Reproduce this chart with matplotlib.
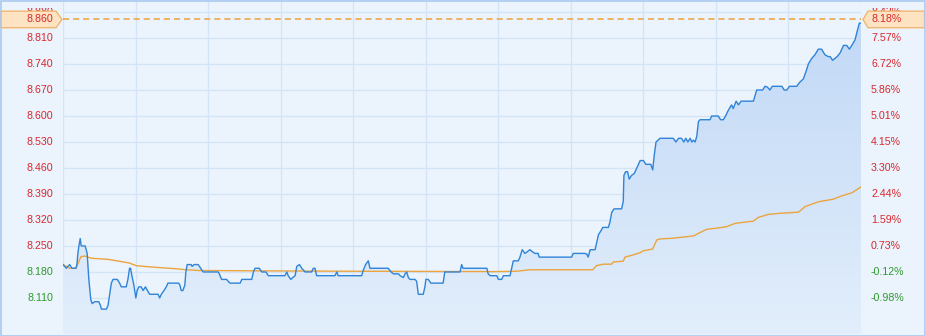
import numpy as np
import matplotlib
matplotlib.use("Agg")
import matplotlib.pyplot as plt
from matplotlib.patches import Polygon, Rectangle
from matplotlib.colors import LinearSegmentedColormap
from matplotlib.transforms import blended_transform_factory, Bbox, TransformedBbox, IdentityTransform

plt.rcParams['font.family'] = ['Liberation Sans', 'DejaVu Sans']

# ---------------- data ----------------
prev_close = 8.19
max_price = 8.860
total_minutes = 241

price_minute = [
    0, 1, 2, 2.7, 3.9, 4.2, 4.5, 4.8, 5.2, 5.5,
    6.7, 7.3, 7.8, 8.4, 8.8, 9.6, 10.8, 11.3, 11.6, 13.1,
    13.6, 14.1, 14.6, 15.1, 16.4, 17.1, 17.6, 19.1, 19.6, 20.1,
    20.4, 20.8, 21.4, 22.0, 22.4, 22.9, 23.6, 24.2, 24.9, 25.5,
    26.2, 28.2, 28.7, 29.2, 29.7, 30.5, 31.2, 31.7, 34.9, 35.3,
    35.7, 36.2, 36.8, 37.1, 37.5, 38.7, 39.0, 39.6, 40.8, 41.6,
    42.3, 46.9, 47.2, 47.9, 49.4, 50.4, 53.5, 54.0, 57.0, 57.5,
    58.0, 59.3, 60.0, 61.3, 62.0, 67.0, 67.6, 68.0, 68.8, 69.4,
    70.1, 70.6, 71.4, 72.1, 73.1, 75.1, 75.6, 76.1, 76.6, 82.1,
    82.7, 83.1, 90.2, 90.7, 91.4, 92.2, 92.7, 98.2, 99.1, 99.8,
    101.3, 101.8, 102.8, 103.3, 103.8, 104.3, 104.8, 106.3, 106.8, 107.3,
    108.8, 109.3, 109.6, 110.3, 111.1, 114.8, 115.3, 119.9, 120.4, 120.8,
    128.0, 128.4, 129.0, 131.0, 131.5, 132.5, 133.0, 135.0, 135.5, 136.0,
    137.5, 138.0, 138.7, 139.5, 140.3, 141.0, 141.7, 142.5, 143.5, 143.8,
    153.6, 154.1, 157.6, 158.2, 158.6, 159.2, 160.7, 161.2, 161.7, 162.4,
    163.0, 164.7, 165.2, 165.7, 166.4, 167.2, 168.7, 169.2, 169.4, 169.9,
    170.5, 171.0, 171.7, 172.5, 173.3, 174.3, 175.3, 176.0, 177.5, 178.1,
    178.5, 179.1, 180.3, 184.3, 185.1, 185.9, 186.8, 187.5, 188.1, 188.7,
    189.4, 189.9, 190.4, 190.9, 191.4, 191.9, 192.4, 195.4, 195.9, 197.9,
    198.6, 199.4, 200.1, 200.9, 201.9, 202.4, 203.3, 204.0, 204.8, 208.5,
    209.5, 211.3, 212.0, 212.7, 213.5, 214.2, 217.1, 217.8, 218.6, 219.4,
    221.6, 222.4, 223.6, 224.4, 225.1, 226.1, 227.1, 228.1, 229.1, 230.1,
    231.1, 231.7, 232.4, 233.1, 233.8, 234.7, 235.7, 236.7, 237.5, 238.2,
    239.2, 239.9, 240.5, 241,
]
price = [
    8.20, 8.19, 8.20, 8.19, 8.19, 8.20, 8.23, 8.25, 8.27, 8.25,
    8.25, 8.23, 8.16, 8.105, 8.095, 8.10, 8.10, 8.09, 8.08, 8.08,
    8.09, 8.12, 8.15, 8.16, 8.16, 8.15, 8.14, 8.14, 8.16, 8.19,
    8.19, 8.17, 8.145, 8.11, 8.13, 8.14, 8.14, 8.13, 8.14, 8.13,
    8.12, 8.12, 8.12, 8.11, 8.12, 8.13, 8.14, 8.15, 8.15, 8.145,
    8.13, 8.13, 8.145, 8.18, 8.20, 8.20, 8.195, 8.20, 8.20, 8.19,
    8.18, 8.18, 8.175, 8.16, 8.16, 8.15, 8.15, 8.16, 8.16, 8.18,
    8.19, 8.19, 8.18, 8.18, 8.17, 8.17, 8.18, 8.17, 8.16, 8.165,
    8.17, 8.195, 8.20, 8.19, 8.18, 8.18, 8.19, 8.19, 8.17, 8.17,
    8.18, 8.17, 8.17, 8.185, 8.20, 8.21, 8.19, 8.19, 8.18, 8.175,
    8.175, 8.17, 8.165, 8.175, 8.18, 8.165, 8.16, 8.16, 8.155, 8.12,
    8.12, 8.14, 8.16, 8.16, 8.15, 8.15, 8.18, 8.18, 8.20, 8.19,
    8.19, 8.175, 8.17, 8.17, 8.16, 8.16, 8.17, 8.17, 8.19, 8.21,
    8.21, 8.22, 8.24, 8.23, 8.235, 8.24, 8.235, 8.23, 8.23, 8.22,
    8.22, 8.23, 8.23, 8.228, 8.22, 8.24, 8.24, 8.26, 8.28, 8.29,
    8.30, 8.30, 8.315, 8.34, 8.35, 8.35, 8.35, 8.37, 8.44, 8.45,
    8.45, 8.43, 8.44, 8.445, 8.46, 8.48, 8.48, 8.47, 8.47, 8.455,
    8.49, 8.53, 8.54, 8.54, 8.53, 8.54, 8.54, 8.53, 8.54, 8.53,
    8.54, 8.53, 8.535, 8.53, 8.545, 8.585, 8.59, 8.59, 8.60, 8.60,
    8.59, 8.59, 8.60, 8.615, 8.63, 8.62, 8.64, 8.63, 8.64, 8.64,
    8.67, 8.67, 8.68, 8.678, 8.67, 8.68, 8.68, 8.67, 8.67, 8.68,
    8.68, 8.69, 8.70, 8.72, 8.74, 8.755, 8.765, 8.78, 8.78, 8.765,
    8.76, 8.76, 8.75, 8.755, 8.76, 8.77, 8.79, 8.79, 8.78, 8.79,
    8.805, 8.83, 8.85, 8.85,
]

avg_minute = [
    0, 2.0, 3.9, 5.4, 6.6, 8.6, 13.6, 17.6, 20.1, 22.1,
    24.6, 28.7, 33.7, 37.2, 40.8, 60, 87, 130, 137, 141,
    160, 161.1, 163.2, 165.7, 166.2, 169.2, 169.7, 172.2, 174.3, 175.3,
    178.1, 179.3, 180.3, 184.3, 190.4, 191.9, 194.4, 197.4, 200.4, 203.0,
    208.5, 210.0, 213.0, 216.5, 222.1, 224.1, 228.1, 232.6, 235.2, 238.2,
    241,
]
avg_price = [
    8.20, 8.19, 8.19, 8.221, 8.223, 8.217, 8.214, 8.208, 8.204, 8.197,
    8.195, 8.192, 8.189, 8.186, 8.184, 8.183, 8.182, 8.181, 8.182, 8.186,
    8.186, 8.197, 8.201, 8.201, 8.207, 8.209, 8.220, 8.226, 8.232, 8.237,
    8.242, 8.266, 8.269, 8.271, 8.277, 8.284, 8.295, 8.298, 8.302, 8.311,
    8.317, 8.327, 8.335, 8.338, 8.341, 8.356, 8.369, 8.376, 8.385, 8.393,
    8.409,
]

price_ticks = [8.110, 8.180, 8.250, 8.320, 8.390, 8.460, 8.530, 8.600, 8.670, 8.740, 8.810, 8.880]
grid_prices = [8.040] + price_ticks
n_vgrid = 11

# ---------------- figure ----------------
W, H = 925, 336
fig = plt.figure(figsize=(W / 100, H / 100), dpi=100)
bg = '#EBF3FC'
fig.patch.set_facecolor(bg)

ax_left, ax_right = 63, 861
ax_top, ax_bot = 2, 334
ax = fig.add_axes([ax_left / W, (H - ax_bot) / H, (ax_right - ax_left) / W, (ax_bot - ax_top) / H])
ax.set_facecolor(bg)
ylo, yhi = 8.013, 8.907

# gradient area under price line
cmap = LinearSegmentedColormap.from_list('fillgrad', ['#E2EEFB', '#BFD7F6'])
grad = np.linspace(0, 1, 256).reshape(-1, 1)
img = ax.imshow(grad, extent=[0, total_minutes, ylo, yhi], origin='lower',
                aspect='auto', cmap=cmap, zorder=1, interpolation='bilinear')
verts = [(price_minute[0], ylo)] + list(zip(price_minute, price)) + [(price_minute[-1], ylo)]
poly = Polygon(verts, closed=True, facecolor='none', edgecolor='none')
ax.add_patch(poly)
img.set_clip_path(poly)

ax.set_xlim(0, total_minutes)
ax.set_ylim(ylo, yhi)

# grid
gcol = '#D3E4F6'
for gp in grid_prices:
    ax.axhline(gp, color=gcol, lw=0.9, zorder=0.5)
for k in range(n_vgrid + 1):
    ax.axvline(total_minutes * k / n_vgrid, color=gcol, lw=0.9, zorder=0.5)

ax.plot(avg_minute, avg_price, color='#EBA43E', lw=1.0, zorder=3)
ax.plot(price_minute, price, color='#2F84D8', lw=1.0, zorder=4)
ax.axhline(max_price, color='#F0A040', lw=1.1, ls=(0, (4.0, 2.6)), zorder=5)

ax.set_xticks([])
ax.set_yticks([])
for s in ax.spines.values():
    s.set_visible(False)

# ---------------- labels ----------------
red = '#D8282E'
green = '#2E9A2E'
clip = TransformedBbox(Bbox([[0, 0], [1, (H - 8) / H]]), fig.transFigure)
trans = blended_transform_factory(fig.transFigure, ax.transData)
fs = 7.7
for p in price_ticks:
    col = red if p >= prev_close else green
    pct = (p / prev_close - 1) * 100
    t1 = ax.text(53 / W, p, f'{p:.3f}', transform=trans, ha='right', va='center',
                 color=col, fontsize=fs, clip_on=True)
    t1.set_clip_box(clip)
    t2 = ax.text(871 / W, p, f'{pct:.2f}%', transform=trans, ha='left', va='center',
                 color=col, fontsize=fs, clip_on=True)
    t2.set_clip_box(clip)

# flags for max price
fig.canvas.draw()
ymax_px = ax.transData.transform((0, max_price))[1]
hh = 8.3
lflag = Polygon([(0.5, ymax_px - hh), (56, ymax_px - hh), (62, ymax_px), (56, ymax_px + hh), (0.5, ymax_px + hh)],
                closed=True, facecolor='#FDE3C2', edgecolor='#F0B266', lw=0.9,
                transform=IdentityTransform(), zorder=10)
rflag = Polygon([(W - 0.5, ymax_px - hh), (868, ymax_px - hh), (863, ymax_px), (868, ymax_px + hh), (W - 0.5, ymax_px + hh)],
                closed=True, facecolor='#FDE3C2', edgecolor='#F0B266', lw=0.9,
                transform=IdentityTransform(), zorder=10)
fig.patches.extend([lflag, rflag])
max_pct = (max_price / prev_close - 1) * 100
fig.text(53 / W, ymax_px / H, f'{max_price:.3f}', ha='right', va='center', color=red, fontsize=fs, zorder=11)
fig.text(871 / W, ymax_px / H, f'{max_pct:.2f}%', ha='left', va='center', color=red, fontsize=fs, zorder=11)

# outer frame
fig.patches.append(Rectangle((0.5, 0.5), W - 1, H - 1, transform=IdentityTransform(),
                             facecolor='none', edgecolor='#A9CAEE', lw=1.2, zorder=12))

fig.savefig('out.png', dpi=100, facecolor=bg)
